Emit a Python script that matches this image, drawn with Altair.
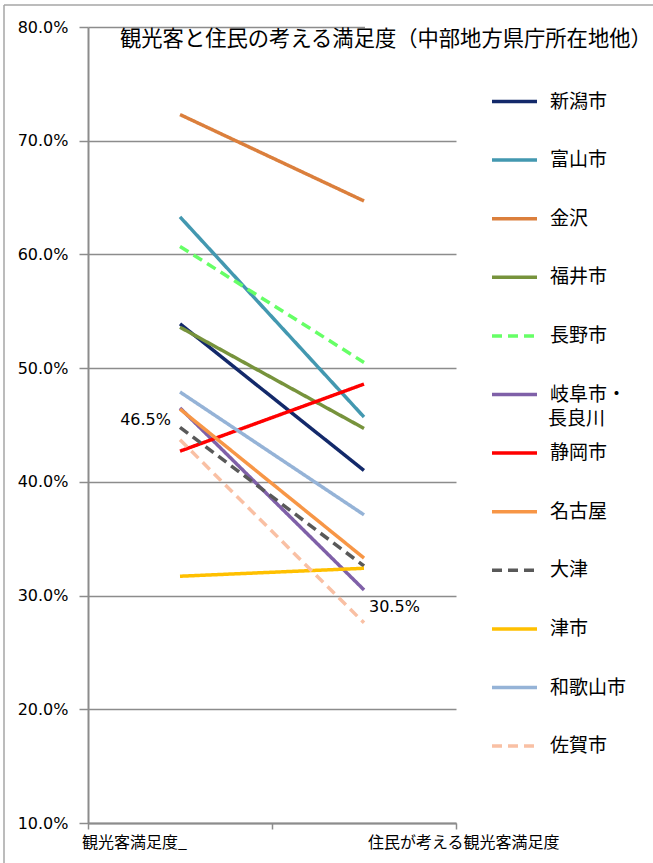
import altair as alt
import pandas as pd

# ---- data ----
categories = ["観光客満足度_", "住民が考える観光客満足度"]
cities = ["新潟市", "富山市", "金沢", "福井市", "長野市", "岐阜市・長良川",
          "静岡市", "名古屋", "大津", "津市", "和歌山市", "佐賀市"]
visitor = [53.9, 63.3, 72.3, 53.6, 60.7, 46.5, 42.7, 46.4, 44.8, 31.7, 47.9, 43.7]
resident = [41.0, 45.7, 64.7, 44.7, 50.5, 30.5, 48.6, 33.3, 32.6, 32.4, 37.1, 27.6]
colors = ["#13296A", "#4398B0", "#DB7F3C", "#77933C", "#66FF66", "#7F60A8",
          "#FF0000", "#F79646", "#595959", "#FFC000", "#95B3D7", "#F9C0A4"]
dashes = [[1, 0], [1, 0], [1, 0], [1, 0], [10, 6], [1, 0],
          [1, 0], [1, 0], [10, 6], [1, 0], [1, 0], [10, 6]]
y_ticks = [0.1, 0.2, 0.3, 0.4, 0.5, 0.6, 0.7, 0.8]
title_text = "観光客と住民の考える満足度（中部地方県庁所在地他）"
labelled_city = "岐阜市・長良川"
wrap_first, wrap_second = "岐阜市・", "長良川"

rows = []
for k, c in enumerate(cities):
    for i, v in enumerate([visitor[k], resident[k]]):
        rows.append({"city": c, "idx": i, "cat": categories[i], "value": v / 100})
df = pd.DataFrame(rows)
cat_df = pd.DataFrame({"idx": [0, 1], "name": categories})

W, H = 368, 796
GRAY = "#8c8c8c"
JP = "Noto Sans CJK JP"
NUM = "DejaVu Sans"

xscale = alt.Scale(domain=[-0.5, 1.5], nice=False, zero=False)
yscale = alt.Scale(domain=[0.1, 0.8], nice=False, zero=False)

legend = alt.Legend(
    title=None, orient="none", legendX=402, legendY=50,
    symbolType="stroke", symbolSize=2025, symbolStrokeWidth=3.5,
    labelFont=JP, labelFontSize=19, labelColor="black", labelOffset=11,
    rowPadding=23.6, padding=0, labelLimit=300,
    labelExpr=f"datum.label == '{labelled_city}' ? '{wrap_first}' : datum.label",
)

lines = alt.Chart(df).mark_line(strokeWidth=3.5, strokeCap="butt").encode(
    x=alt.X("idx:Q", scale=xscale,
            axis=alt.Axis(values=[-0.5, 0.5, 1.5], labels=False, title=None, grid=False,
                          tickSize=6, tickColor=GRAY, tickWidth=1.5,
                          domainColor=GRAY, domainWidth=2)),
    y=alt.Y("value:Q", scale=yscale,
            axis=alt.Axis(values=y_ticks, format=".1%", title=None, grid=True,
                          gridColor=GRAY, gridWidth=1.5, tickSize=9, tickColor=GRAY,
                          tickWidth=1.5, domainColor=GRAY, domainWidth=2,
                          labelFont=NUM, labelFontSize=16, labelColor="black",
                          labelPadding=11)),
    color=alt.Color("city:N", scale=alt.Scale(domain=cities, range=colors), legend=legend),
    strokeDash=alt.StrokeDash("city:N", scale=alt.Scale(domain=cities, range=dashes), legend=legend),
    order=alt.Order("idx:Q"),
)

# second line of the wrapped legend label
wrap2 = alt.Chart(pd.DataFrame({"t": [wrap_second]})).mark_text(
    align="left", baseline="middle", font=JP, fontSize=19, color="black"
).encode(x=alt.value(460), y=alt.value(392), text="t:N")

# white patch where the title box hides the top gridline
patch = alt.Chart(pd.DataFrame({"a": [0]})).mark_rect(color="white").encode(
    x=alt.value(277), x2=alt.value(372), y=alt.value(-3), y2=alt.value(3)
)

title = alt.Chart(pd.DataFrame({"t": [title_text]})).mark_text(
    align="left", baseline="middle", font=JP, fontSize=21.3, color="black"
).encode(x=alt.value(32), y=alt.value(13), text="t:N")

lab = df[df["city"] == labelled_city]
lab_left = alt.Chart(lab[lab["idx"] == 0]).mark_text(
    align="right", baseline="middle", dx=-9, dy=12, font=NUM, fontSize=16, color="black"
).encode(x=alt.X("idx:Q", scale=xscale), y=alt.Y("value:Q", scale=yscale),
         text=alt.Text("value:Q", format=".1%"))
lab_right = alt.Chart(lab[lab["idx"] == 1]).mark_text(
    align="left", baseline="middle", dx=5, dy=17, font=NUM, fontSize=16, color="black"
).encode(x=alt.X("idx:Q", scale=xscale), y=alt.Y("value:Q", scale=yscale),
         text=alt.Text("value:Q", format=".1%"))

cat_left = alt.Chart(cat_df[cat_df["idx"] == 0]).mark_text(
    align="left", baseline="middle", dx=-98, font=JP, fontSize=16, color="black"
).encode(x=alt.X("idx:Q", scale=xscale), y=alt.value(816), text="name:N")
cat_right = alt.Chart(cat_df[cat_df["idx"] == 1]).mark_text(
    align="left", baseline="middle", dx=4, font=JP, fontSize=16, color="black"
).encode(x=alt.X("idx:Q", scale=xscale), y=alt.value(816), text="name:N")

one = pd.DataFrame({"a": [0]})
border_left = alt.Chart(one).mark_rule(color="#a6a6a6", strokeWidth=1.5).encode(
    x=alt.value(-84), y=alt.value(-22), y2=alt.value(840))
border_top = alt.Chart(one).mark_rule(color="#a6a6a6", strokeWidth=1.5).encode(
    x=alt.value(-84), x2=alt.value(570), y=alt.value(-22))

chart = alt.layer(
    lines, wrap2, patch, title, lab_left, lab_right, cat_left, cat_right,
    border_left, border_top
).properties(
    width=W, height=H,
    autosize=alt.AutoSizeParams(type="none"),
    padding={"left": 88, "top": 27, "right": 197, "bottom": 40},
    background="white",
).configure_view(stroke=None)

chart.save("out.html", embed_options={"renderer": "svg", "actions": False})
